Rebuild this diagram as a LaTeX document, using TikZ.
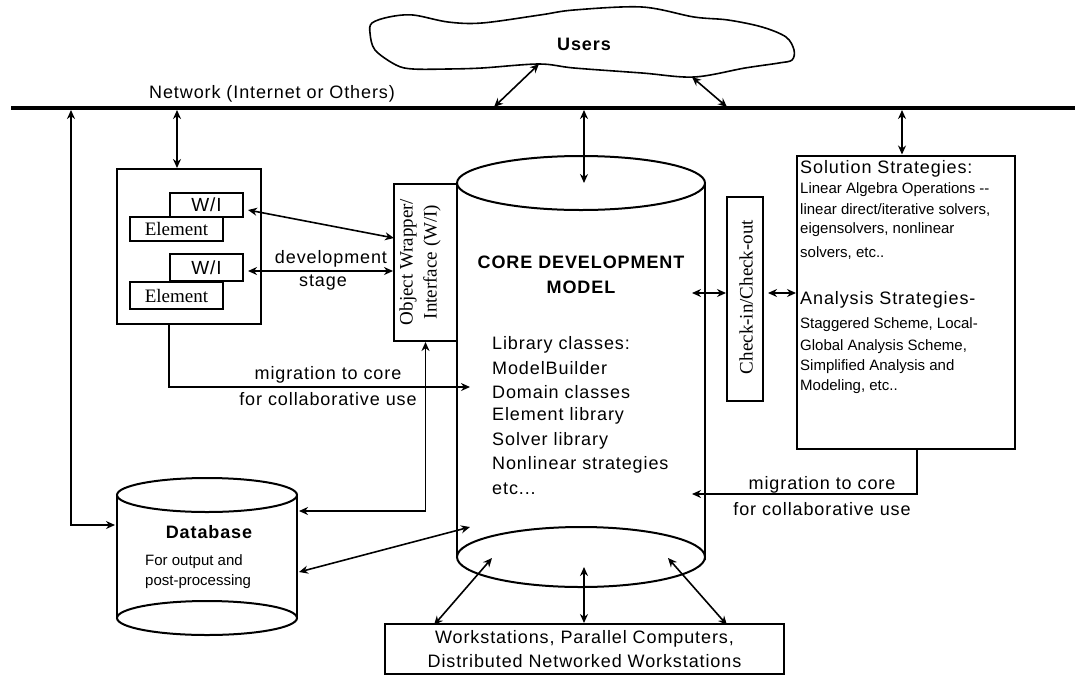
\documentclass[tikz,border=0pt]{standalone}
\usepackage{fontspec}
\setmainfont{Liberation Sans}[LetterSpace=5]
\newfontfamily\plainsans{Liberation Sans}
\newfontfamily\timesfont{Liberation Serif}
\usetikzlibrary{arrows.meta}

\newcommand{\txtmain}{\fontsize{18}{24}\selectfont}
\newcommand{\txtsmall}{\plainsans\fontsize{15}{20}\selectfont}
\newcommand{\txtserif}{\timesfont\fontsize{19}{24}\selectfont}

\tikzset{
  box/.style     = {draw, line width=2pt, fill=white, inner sep=0pt},
  txt/.style     = {inner sep=0pt, font=\txtmain},
  smalltxt/.style= {inner sep=0pt, anchor=west, font=\txtsmall},
  link/.style    = {line width=1.6pt, {Stealth[length=9pt,width=8pt]}-{Stealth[length=9pt,width=8pt]}},
  flow/.style    = {line width=1.6pt, -{Stealth[length=9pt,width=8pt]}}
}

\begin{document}
\begin{tikzpicture}[x=1pt, y=-1pt]
\useasboundingbox (0,0) rectangle (1075,675);

% users cloud

\draw[line width=1.6pt] plot[smooth cycle, tension=0.55] coordinates {
  (370,33) (372,23) (389,17) (413,15) (448,22) (482,23) (540,15) (574,10)
  (642,7) (694,17) (728,20) (762,27) (786,37) (794,50) (792,60) (779,63)
  (745,68) (694,77) (642,73) (574,68) (539,64) (482,68) (448,69) (413,69)
  (396,65) (375,50)};
\node[txt, font=\txtmain\bfseries] (users) at (584,44) {Users};

% network

\draw[line width=3.5pt] (11,108) -- (1075,108);
\node[txt] (network) at (272,94) {Network (Internet or Others)};

\coordinate (net-db)   at (71,110);
\coordinate (net-lb)   at (177,110);
\coordinate (net-cl1)  at (494,107);
\coordinate (net-core) at (584,110);
\coordinate (net-cl2)  at (727,107);
\coordinate (net-sol)  at (902,110);

% element development box

\node[box, minimum width=144pt, minimum height=155pt] (leftbox) at (189,246.5) {};
\node[box, minimum width=73pt, minimum height=24pt, font=\fontsize{19}{24}\selectfont] (wi1) at (206.5,205) {W/I};
\node[box, minimum width=93pt, minimum height=24pt, font=\txtserif] (el1) at (176.5,229) {Element};
\node[box, minimum width=73pt, minimum height=27pt, font=\fontsize{19}{24}\selectfont] (wi2) at (206.5,267.5) {W/I};
\node[box, minimum width=93pt, minimum height=27pt, font=\txtserif] (el2) at (176.5,295.5) {Element};

\node[txt] (devel) at (331,259) {development};
\node[txt] (stage) at (323,283) {stage};

% object wrapper

\node[box, minimum width=63pt, minimum height=157pt] (wrapper) at (425.5,262.5) {};
\node[inner sep=0pt, rotate=90, align=center, font=\txtserif] (wraptext) at (420,262) {Object Wrapper/\\Interface (W/I)};

% core development model

\draw[line width=2pt] (457,183) -- (457,557);
\draw[line width=2pt] (705,183) -- (705,560);
\draw[line width=2pt] (581,183) ellipse [x radius=124, y radius=27];
\draw[line width=2pt] (581,557) ellipse [x radius=124, y radius=30];

\node[txt, font=\txtmain\bfseries] (core1) at (581,262) {CORE DEVELOPMENT};
\node[txt, font=\txtmain\bfseries] (core2) at (581,287) {MODEL};

\node[txt, anchor=west] (lib1) at (492,345) {Library classes:};
\node[txt, anchor=west] (lib2) at (492,368) {ModelBuilder};
\node[txt, anchor=west] (lib3) at (492,392) {Domain classes};
\node[txt, anchor=west] (lib4) at (492,416) {Element library};
\node[txt, anchor=west] (lib5) at (492,441) {Solver library};
\node[txt, anchor=west] (lib6) at (492,465) {Nonlinear strategies};
\node[txt, anchor=west] (lib7) at (492,489) {etc...};

\coordinate (core-top) at (584,183);
\coordinate (core-chk) at (692,293);
\coordinate (core-in1) at (470,387);
\coordinate (core-in2) at (470,527);
\coordinate (core-in3) at (692,494);
\coordinate (core-b1)  at (492,558);
\coordinate (core-b2)  at (584,567);
\coordinate (core-b3)  at (668,558);

% check-in / check-out

\node[box, minimum width=36pt, minimum height=204pt] (checkbox) at (745,299) {};
\node[inner sep=0pt, rotate=90, font=\txtserif] (checktext) at (746,297) {Check-in/Check-out};
\coordinate (chk-sol) at (768,293);

% solution strategies

\node[box, minimum width=218pt, minimum height=293pt] (solbox) at (906,302) {};
\node[txt, anchor=west] (sol1) at (800,169) {Solution Strategies:};
\node[smalltxt] (sol2) at (800,190) {Linear Algebra Operations --};
\node[smalltxt] (sol3) at (800,210) {linear direct/iterative solvers,};
\node[smalltxt] (sol4) at (800,230) {eigensolvers, nonlinear};
\node[smalltxt] (sol5) at (800,253) {solvers, etc..};
\node[txt, anchor=west] (ana1) at (800,300) {Analysis Strategies-};
\node[smalltxt] (ana2) at (800,325) {Staggered Scheme, Local-};
\node[smalltxt] (ana3) at (800,347) {Global Analysis Scheme,};
\node[smalltxt] (ana4) at (800,367) {Simplified Analysis and};
\node[smalltxt] (ana5) at (800,387) {Modeling, etc..};
\coordinate (sol-out) at (917,449);

\node[txt] (mig2a) at (822,485) {migration to core};
\node[txt] (mig2b) at (822,509) {for collaborative use};

% database

\draw[line width=2pt] (117,495) -- (117,618);
\draw[line width=2pt] (297,495) -- (297,618);
\draw[line width=2pt] (207,495) ellipse [x radius=90, y radius=17];
\draw[line width=2pt] (207,618) ellipse [x radius=90, y radius=17];
\node[txt, font=\txtmain\bfseries] (database) at (209,532) {Database};
\node[smalltxt] (dbtext1) at (145,562) {For output and};
\node[smalltxt] (dbtext2) at (145,582) {post-processing};

\coordinate (db-w)  at (115,525);
\coordinate (db-e1) at (299,511);
\coordinate (db-e2) at (299,572);

% workstations

\node[box, minimum width=399pt, minimum height=50pt, align=center, font=\txtmain] (wsbox) at (584.5,649)
  {Workstations, Parallel Computers,\\Distributed Networked Workstations};
\coordinate (ws-a) at (434,625);
\coordinate (ws-c) at (727,625);

% other coordinates

\coordinate (cl-a)   at (539,64);
\coordinate (cl-b)   at (692,77);
\coordinate (lb-out) at (169,324);
\coordinate (wi1-r)  at (248,210);
\coordinate (wi2-r)  at (248,271);
\coordinate (wrap-a) at (394,238);

\node[txt] (mig1a) at (328,375) {migration to core};
\node[txt] (mig1b) at (328,399) {for collaborative use};

% connectors to network

\draw[link] (net-lb) -- (net-lb |- leftbox.north);
\draw[link] (cl-a) -- (net-cl1);
\draw[link] (cl-b) -- (net-cl2);
\draw[link] (net-core) -- (core-top);
\draw[link] (net-sol) -- (net-sol |- solbox.north);
\draw[link] (net-db) |- (db-w);

% connectors between blocks

\draw[link] (wi1-r) -- (wrap-a);
\draw[link] (wi2-r) -- (wi2-r -| wrapper.west);
\draw[flow] (lb-out) |- (core-in1);
\draw[link] (wrapper.south) |- (db-e1);
\draw[link] (db-e2) -- (core-in2);
\draw[link] (core-chk) -- (core-chk -| checkbox.west);
\draw[link] (chk-sol) -- (chk-sol -| solbox.west);
\draw[flow] (sol-out) |- (core-in3);

% connectors to workstations

\draw[link] (core-b1) -- (ws-a);
\draw[link] (core-b2) -- (core-b2 |- wsbox.north);
\draw[link] (core-b3) -- (ws-c);

\end{tikzpicture}
\end{document}
